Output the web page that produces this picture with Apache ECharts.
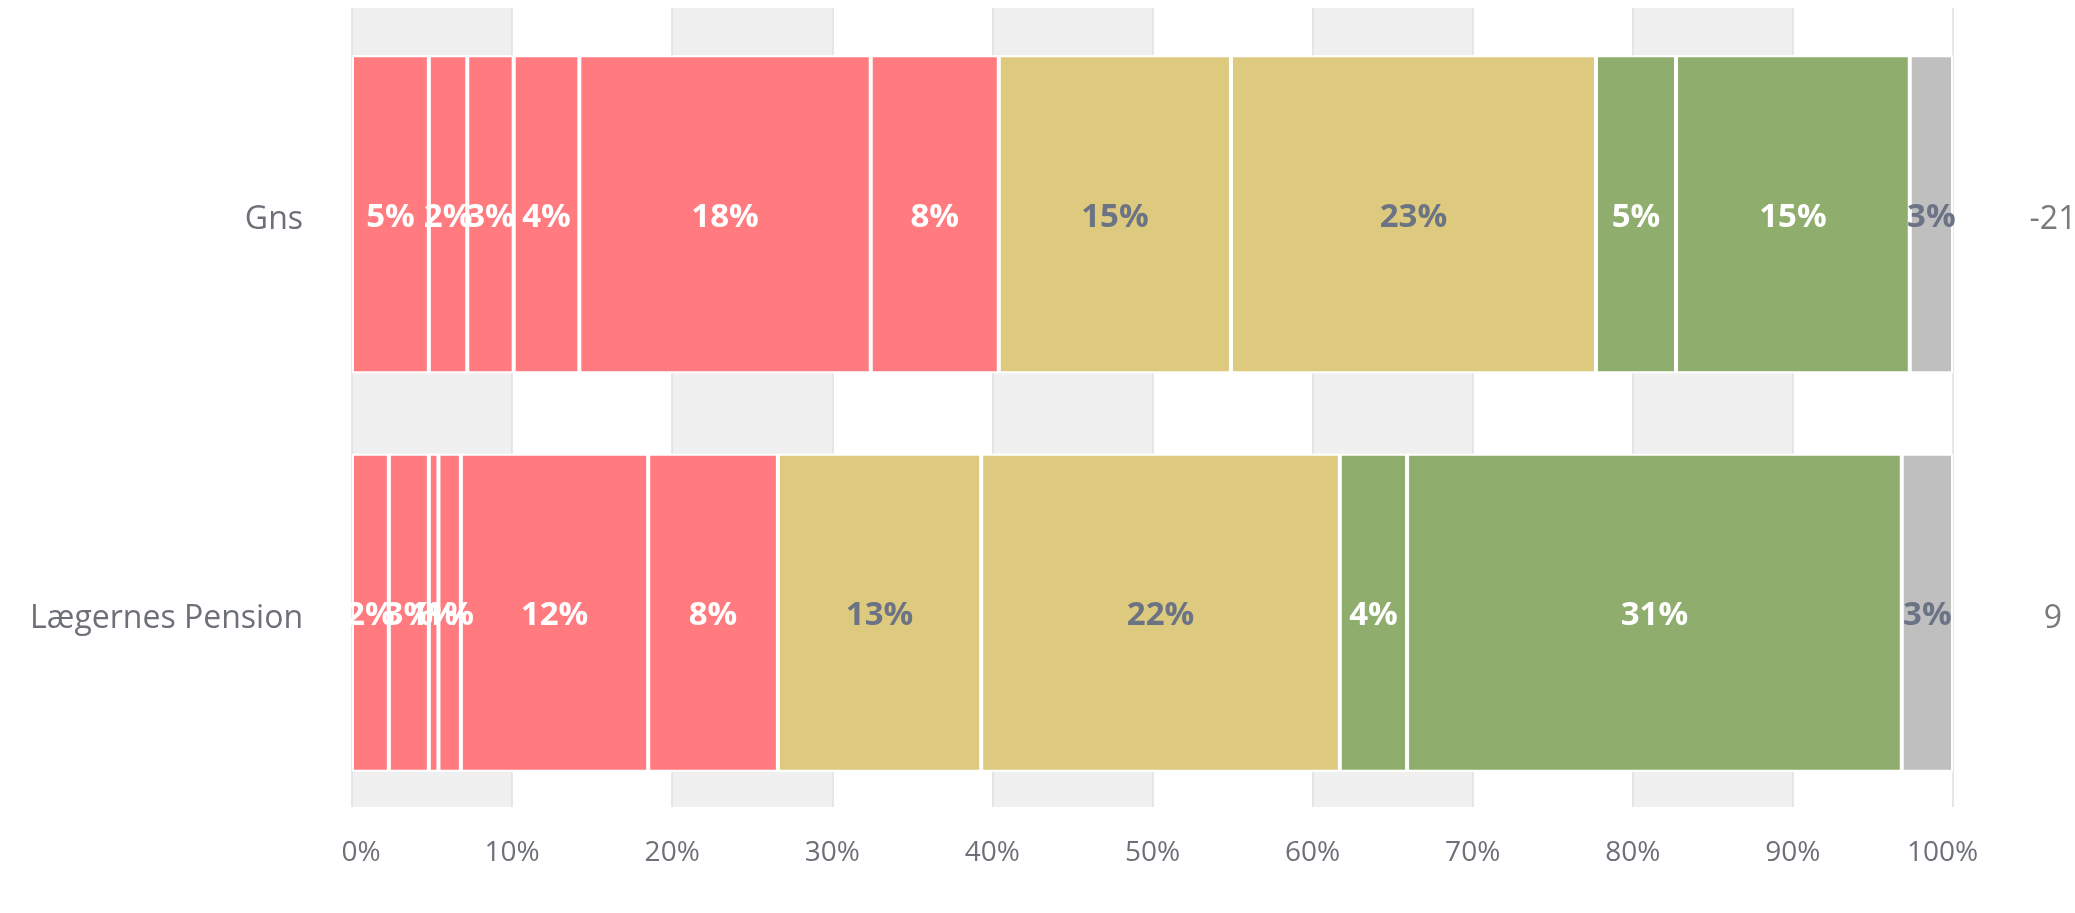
<!DOCTYPE html>
<html>
<head>
<meta charset="utf-8">
<script src="https://cdn.jsdelivr.net/npm/echarts@6/dist/echarts.min.js"></script>
<style>
  html, body { margin: 0; padding: 0; background: #ffffff; }
  #chart { width: 2075px; height: 913px; }
</style>
</head>
<body>
<div id="chart"></div>
<script>
// ---- data ----
const categories = ['Gns', 'Lægernes Pension'];
const gnsValues = [4.8, 2.4, 2.9, 4.1, 18.2, 8.0, 14.5, 22.8, 5.0, 14.6, 2.7];
const laegerValues = [2.3, 2.5, 0.6, 1.4, 11.7, 8.1, 12.7, 22.4, 4.2, 30.9, 3.2];
const rightLabels = ['-21', '9'];
const segmentGroups = ['red', 'red', 'red', 'red', 'red', 'red', 'yellow', 'yellow', 'green', 'green', 'grey'];

// ---- styles ----
const groupColor = { red: '#FF7B7F', yellow: '#DDCA7E', green: '#8FAE6D', grey: '#BFBFBF' };
const groupLabelColor = { red: '#ffffff', yellow: '#6B7385', green: '#ffffff', grey: '#6B7385' };
const FONT = '"Open Sans", "Noto Sans", sans-serif';
const xLabelStyle = { fontFamily: FONT, fontSize: 28, color: '#6E7079' };
const yLabelStyle = { fontFamily: FONT, fontSize: 32, color: '#6E7079', padding: [12, 0, 0, 0] };
const rLabelStyle = { fontFamily: FONT, fontSize: 32, color: '#7A7A7A', padding: [12, 0, 0, 0] };

const series = segmentGroups.map((g, i) => ({
  type: 'bar',
  name: 'seg' + i,
  stack: 'total',
  xAxisIndex: 1,
  yAxisIndex: 1,
  barWidth: 318,
  data: [gnsValues[i], laegerValues[i]],
  itemStyle: { color: groupColor[g], borderColor: '#ffffff', borderWidth: 2 },
  label: {
    show: true,
    position: 'inside',
    offset: [0, 3],
    formatter: p => Math.round(p.value) + '%',
    color: groupLabelColor[g],
    fontFamily: FONT,
    fontWeight: 'bold',
    fontSize: 33
  },
  emphasis: { disabled: true }
}));

const chart = echarts.init(document.getElementById('chart'), null, { renderer: 'canvas' });
chart.setOption({
  animation: false,
  backgroundColor: '#ffffff',
  grid: [
    { left: 352, right: 122, top: 8, bottom: 106, outerBoundsMode: 'none', containLabel: false },
    { left: 352, right: 122, top: 15, bottom: 101, outerBoundsMode: 'none', containLabel: false }
  ],
  xAxis: [
    {
      gridIndex: 0, type: 'value', min: 0, max: 100, interval: 10,
      axisLine: { show: false }, axisTick: { show: false },
      splitLine: { show: true, lineStyle: { color: '#DCDFE3', width: 1.5 } },
      splitArea: { show: true, areaStyle: { color: ['#F0F0F0', '#FFFFFF'] } },
      axisLabel: Object.assign({
        margin: 32,
        formatter: v => v === 0 ? '{first|0%}' : (v === 100 ? '{last|100%}' : v + '%'),
        rich: {
          first: Object.assign({ padding: [0, 0, 0, 18] }, xLabelStyle),
          last: Object.assign({ padding: [0, 21, 0, 0] }, xLabelStyle)
        }
      }, xLabelStyle)
    },
    {
      gridIndex: 1, type: 'value', min: 0, max: 100, interval: 10,
      axisLine: { show: false }, axisTick: { show: false },
      splitLine: { show: false }, splitArea: { show: false }, axisLabel: { show: false }
    }
  ],
  yAxis: [
    { gridIndex: 0, type: 'category', data: categories, inverse: true, show: false },
    {
      gridIndex: 1, type: 'category', data: categories, inverse: true, position: 'left',
      axisLine: { show: false }, axisTick: { show: false },
      axisLabel: {
        fontFamily: FONT, fontSize: 32, color: '#6E7079', margin: 49,
        formatter: v => '{t|' + v + '}',
        rich: { t: yLabelStyle }
      }
    },
    {
      gridIndex: 1, type: 'category', data: rightLabels, inverse: true, position: 'right',
      axisLine: { show: false }, axisTick: { show: false },
      axisLabel: {
        fontFamily: FONT, fontSize: 32, color: '#7A7A7A', margin: 100, align: 'center',
        formatter: v => '{t|' + v + '}',
        rich: { t: rLabelStyle }
      }
    }
  ],
  series: series
});
</script>
</body>
</html>
